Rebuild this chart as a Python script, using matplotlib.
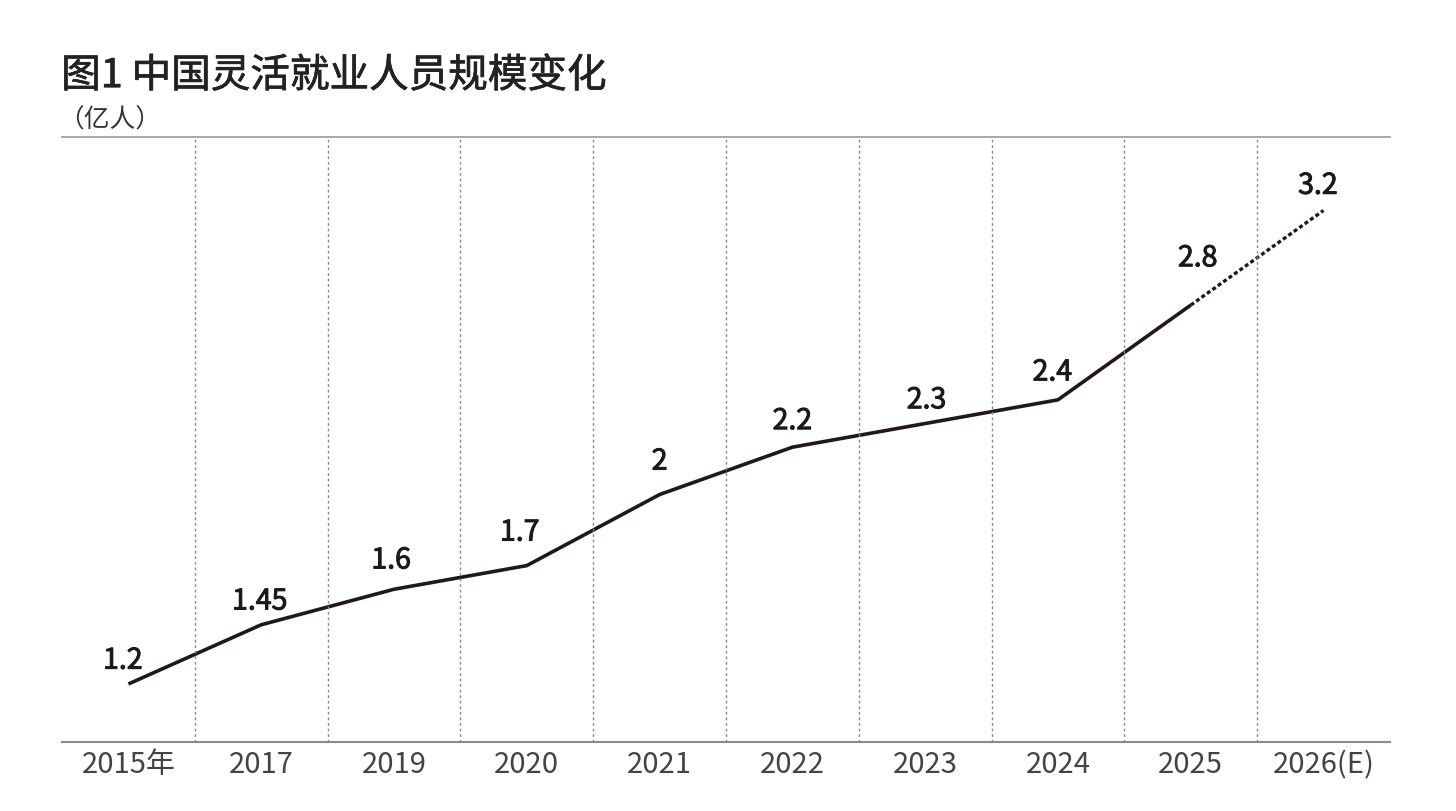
import matplotlib.pyplot as plt
import matplotlib.patheffects as pe
import numpy as np

plt.rcParams['font.family'] = ['Noto Sans CJK SC', 'DejaVu Sans']

years = ['2015年', '2017', '2019', '2020', '2021', '2022', '2023', '2024', '2025', '2026(E)']
values = [1.2, 1.45, 1.6, 1.7, 2, 2.2, 2.3, 2.4, 2.8, 3.2]
labels = ['1.2', '1.45', '1.6', '1.7', '2', '2.2', '2.3', '2.4', '2.8', '3.2']

# label nudges (points), as placed in the original layout
label_dx = [-4, -1, -2, -5, 0, 0, 1, -4, 5, -4]
label_dy = [11, 11, 15, 18, 18, 13, 11, 14, 28, 12]

line_c = '#231815'
grid_c = '#8a8a8a'

fig = plt.figure(figsize=(14.56, 8.12), dpi=100)
ax = fig.add_axes([0.0426, 0.085, 0.912, 0.745])

x = np.arange(len(years))
# actual values solid, estimate dashed
ax.plot(x[:-1], values[:-1], color=line_c, lw=2.6, solid_capstyle='butt')
ax.plot(x[-2:], values[-2:], color=line_c, lw=2.4, linestyle=(0, (1.2, 0.8)))

thick = [pe.withStroke(linewidth=0.7, foreground='#1a1a1a')]
for xi, v, t, dx, dy in zip(x, values, labels, label_dx, label_dy):
    ax.annotate(t, (xi, v), xytext=(dx, dy), textcoords='offset points',
                ha='center', va='baseline', fontsize=20.5, color='#1a1a1a',
                path_effects=thick)

# dotted separators between categories
for s in x[:-1] + 0.5:
    ax.axvline(s, color=grid_c, lw=1, linestyle=(0, (2, 2)))

ax.set_xlim(-0.5, len(years) - 0.5)
ax.set_ylim(0.955, 3.51)
ax.set_xticks(x)
ax.set_xticklabels(years, fontsize=21, color='#444444', fontweight='light')
ax.tick_params(axis='x', length=0, pad=5)
ax.set_yticks([])

for side in ['left', 'right']:
    ax.spines[side].set_visible(False)
ax.spines['top'].set_color('#9a9a9a')
ax.spines['bottom'].set_color('#8a8a8a')
ax.spines['top'].set_linewidth(1.2)
ax.spines['bottom'].set_linewidth(1.5)

fig.text(0.042, 0.905, '图1 中国灵活就业人员规模变化', fontsize=28.5,
         color='#222222', ha='left', va='center',
         path_effects=[pe.withStroke(linewidth=0.5, foreground='#222222')])
fig.text(0.040, 0.851, '（亿人）', fontsize=18.5, color='#333333', ha='left', va='center')

fig.savefig('out.png', dpi=100)
